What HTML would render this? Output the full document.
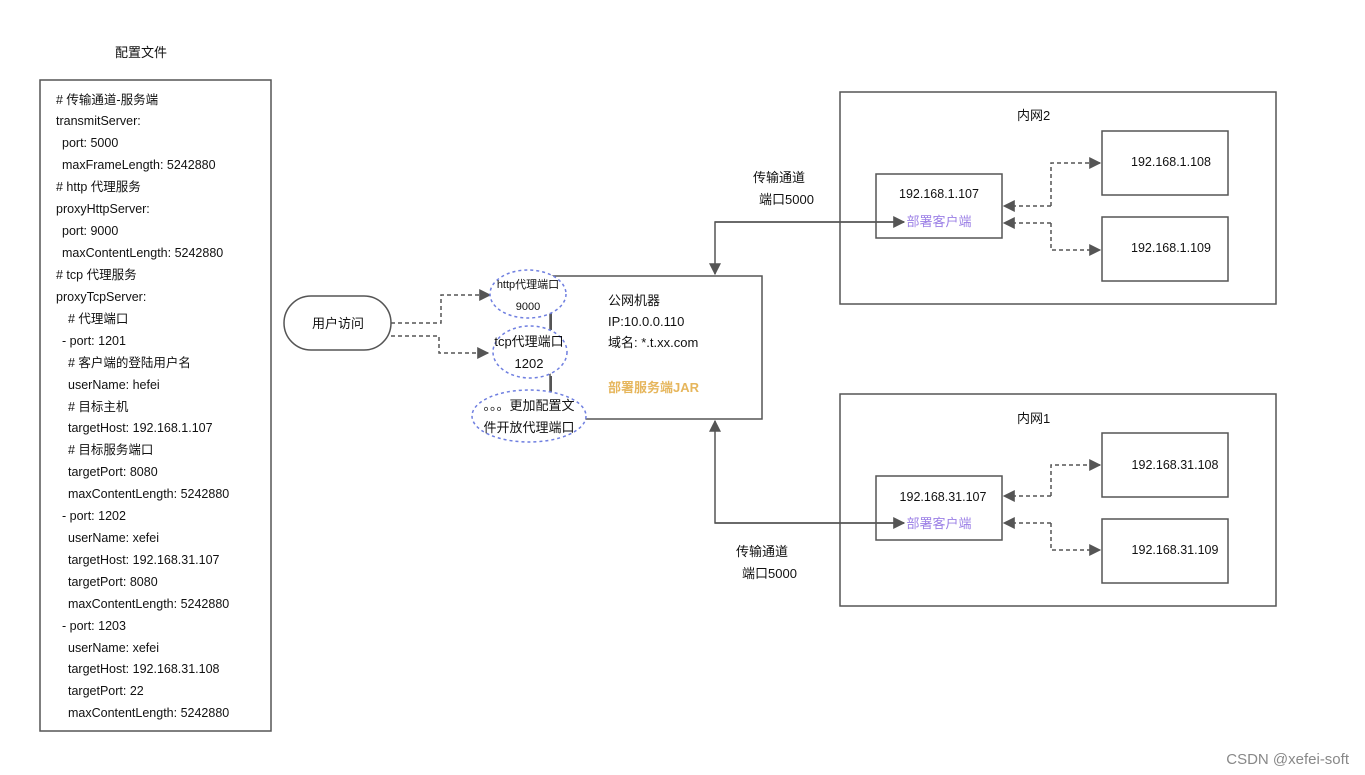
<!DOCTYPE html>
<html><head><meta charset="utf-8"><style>
html,body{margin:0;padding:0;background:#fff;}
svg{display:block;font-family:"Liberation Sans","Noto Sans CJK SC",sans-serif;}
</style></head><body>
<svg width="1365" height="775" viewBox="0 0 1365 775" xmlns="http://www.w3.org/2000/svg">
<defs>
<marker id="a" viewBox="0 0 10 10" refX="9" refY="5" markerWidth="8" markerHeight="8" orient="auto"><path d="M0,0 L10,5 L0,10 z" fill="#555"/></marker>
</defs>
<rect width="1365" height="775" fill="#fff"/>
<g font-size="13" fill="#111">
<text x="115" y="57">配置文件</text>
</g>
<rect x="40" y="80" width="231" height="651" fill="none" stroke="#555" stroke-width="1.5"/>
<g font-size="12.5" fill="#111">
<text x="56" y="104"># 传输通道-服务端</text>
<text x="56" y="125">transmitServer:</text>
<text x="62" y="147">port: 5000</text>
<text x="62" y="169">maxFrameLength: 5242880</text>
<text x="56" y="191"># http 代理服务</text>
<text x="56" y="213">proxyHttpServer:</text>
<text x="62" y="235">port: 9000</text>
<text x="62" y="257">maxContentLength: 5242880</text>
<text x="56" y="279"># tcp 代理服务</text>
<text x="56" y="301">proxyTcpServer:</text>
<text x="68" y="323"># 代理端口</text>
<text x="62" y="345">- port: 1201</text>
<text x="68" y="367"># 客户端的登陆用户名</text>
<text x="68" y="389">userName: hefei</text>
<text x="68" y="411"># 目标主机</text>
<text x="68" y="432">targetHost: 192.168.1.107</text>
<text x="68" y="454"># 目标服务端口</text>
<text x="68" y="476">targetPort: 8080</text>
<text x="68" y="498">maxContentLength: 5242880</text>
<text x="62" y="520">- port: 1202</text>
<text x="68" y="542">userName: xefei</text>
<text x="68" y="564">targetHost: 192.168.31.107</text>
<text x="68" y="586">targetPort: 8080</text>
<text x="68" y="608">maxContentLength: 5242880</text>
<text x="62" y="630">- port: 1203</text>
<text x="68" y="652">userName: xefei</text>
<text x="68" y="673">targetHost: 192.168.31.108</text>
<text x="68" y="695">targetPort: 22</text>
<text x="68" y="717">maxContentLength: 5242880</text>
</g>
<!-- user access -->
<rect x="284" y="296" width="107" height="54" rx="27" fill="#fff" stroke="#555" stroke-width="1.5"/>
<text x="338" y="328" font-size="13" text-anchor="middle" fill="#111">用户访问</text>
<g stroke="#555" stroke-width="1.5" fill="none" stroke-dasharray="4,3">
<path d="M391,323 H441 V295 H490" marker-end="url(#a)"/>
<path d="M391,336 H439 V353 H488" marker-end="url(#a)"/>
</g>
<!-- server box -->
<rect x="550" y="276" width="212" height="143" fill="#fff" stroke="#555" stroke-width="1.5"/>
<line x1="551" y1="310" x2="551" y2="330" stroke="#555" stroke-width="2"/>
<line x1="551" y1="376" x2="551" y2="393" stroke="#555" stroke-width="2"/>
<g stroke="#6f7fe0" stroke-width="1.5" fill="#fff" stroke-dasharray="3,3">
<ellipse cx="528" cy="294" rx="38" ry="24"/>
<ellipse cx="530" cy="352" rx="37" ry="26"/>
<ellipse cx="529" cy="416" rx="57" ry="26"/>
</g>
<g font-size="11" fill="#111" text-anchor="middle">
<text x="528" y="288">http代理端口</text>
<text x="528" y="310">9000</text>
</g>
<g font-size="13" fill="#111" text-anchor="middle">
<text x="529" y="346">tcp代理端口</text>
<text x="529" y="368">1202</text>
<text x="529" y="410">。。。更加配置文</text>
<text x="529" y="432">件开放代理端口</text>
</g>
<g font-size="13" fill="#111">
<text x="608" y="305">公网机器</text>
<text x="608" y="326">IP:10.0.0.110</text>
<text x="608" y="347">域名: *.t.xx.com</text>
</g>
<text x="608" y="392" font-size="13" font-weight="bold" fill="#e6b65c">部署服务端JAR</text>
<!-- net2 -->
<rect x="840" y="92" width="436" height="212" fill="none" stroke="#555" stroke-width="1.5"/>
<text x="1017" y="120" font-size="13" fill="#111">内网2</text>
<rect x="876" y="174" width="126" height="64" fill="#fff" stroke="#555" stroke-width="1.5"/>
<text x="939" y="198" font-size="12.5" text-anchor="middle" fill="#111">192.168.1.107</text>
<text x="939" y="226" font-size="13" text-anchor="middle" fill="#9b7fe6">部署客户端</text>
<rect x="1102" y="131" width="126" height="64" fill="#fff" stroke="#555" stroke-width="1.5"/>
<text x="1171" y="166" font-size="12.5" text-anchor="middle" fill="#111">192.168.1.108</text>
<rect x="1102" y="217" width="126" height="64" fill="#fff" stroke="#555" stroke-width="1.5"/>
<text x="1171" y="252" font-size="12.5" text-anchor="middle" fill="#111">192.168.1.109</text>
<!-- net1 -->
<rect x="840" y="394" width="436" height="212" fill="none" stroke="#555" stroke-width="1.5"/>
<text x="1017" y="423" font-size="13" fill="#111">内网1</text>
<rect x="876" y="476" width="126" height="64" fill="#fff" stroke="#555" stroke-width="1.5"/>
<text x="943" y="501" font-size="12.5" text-anchor="middle" fill="#111">192.168.31.107</text>
<text x="939" y="528" font-size="13" text-anchor="middle" fill="#9b7fe6">部署客户端</text>
<rect x="1102" y="433" width="126" height="64" fill="#fff" stroke="#555" stroke-width="1.5"/>
<text x="1175" y="469" font-size="12.5" text-anchor="middle" fill="#111">192.168.31.108</text>
<rect x="1102" y="519" width="126" height="64" fill="#fff" stroke="#555" stroke-width="1.5"/>
<text x="1175" y="554" font-size="12.5" text-anchor="middle" fill="#111">192.168.31.109</text>
<!-- dashed inner -->
<g stroke="#555" stroke-width="1.5" fill="none" stroke-dasharray="4,3" marker-end="url(#a)">
<path d="M1051,206 V163 H1100"/>
<path d="M1051,206 H1004"/>
<path d="M1051,223 V250 H1100"/>
<path d="M1051,223 H1004"/>
<path d="M1051,496 V465 H1100"/>
<path d="M1051,496 H1004"/>
<path d="M1051,523 V550 H1100"/>
<path d="M1051,523 H1004"/>
</g>
<!-- solid connectors -->
<g stroke="#555" stroke-width="1.5" fill="none">
<path d="M904,222 H715 V274" marker-end="url(#a)"/>
<path d="M715,222 H904" marker-end="url(#a)"/>
<path d="M904,523 H715 V421" marker-end="url(#a)"/>
<path d="M715,523 H904" marker-end="url(#a)"/>
</g>
<g font-size="13" fill="#111">
<text x="753" y="182">传输通道</text>
<text x="759" y="204">端口5000</text>
<text x="736" y="556">传输通道</text>
<text x="742" y="578">端口5000</text>
</g>
<text x="1349" y="764" font-size="15" text-anchor="end" fill="#888">CSDN @xefei-soft</text>
</svg>
</body></html>
